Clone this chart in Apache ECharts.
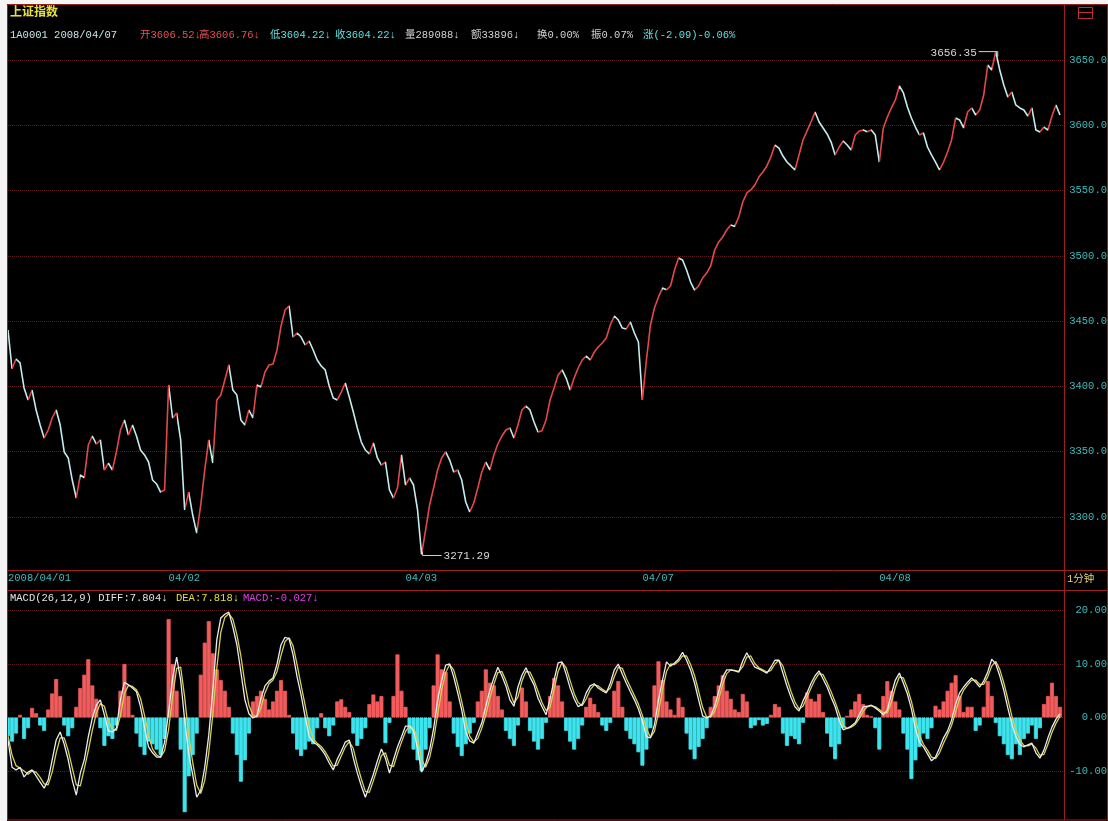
<!DOCTYPE html>
<html><head><meta charset="utf-8">
<script src="https://cdn.jsdelivr.net/npm/echarts@6/dist/echarts.min.js"></script>
<style>html,body{margin:0;padding:0;background:#fff;}#c{position:absolute;left:0;top:0;width:1108px;height:821px;}</style>
</head><body><div id="c"></div>
<script>
// ---------- DATA ----------
const dayLabels = ['2008/04/01','04/02','04/03','04/07','04/08'];
const dayLengths = [40,59,59,59,47];           // sampled slots per trading day
const titleText = '上证指数';
const quoteItems = ['1A0001 2008/04/07','开3606.52↓','高3606.76↓','低3604.22↓','收3604.22↓','量289088↓','额33896↓','换0.00%','振0.07%','涨(-2.09)-0.06%'];
const macdItems = ['MACD(26,12,9) DIFF:7.804↓','DEA:7.818↓','MACD:-0.027↓'];
const periodText = '1分钟';
const priceTicks = {min:3250, max:3700, step:50};
const macdTicks = {min:-20, max:30, step:10};

const price = [
3443.2,3413.5,3421.0,3418.0,3398.8,3389.6,3397.2,3381.9,3370.4,3360.5,
3366.6,3375.8,3381.9,3370.4,3349.8,3345.2,3328.3,3314.5,3332.2,3330.0,
3355.1,3362.0,3355.9,3359.0,3336.0,3341.3,3336.0,3349.8,3366.6,3374.3,
3362.8,3370.4,3362.0,3351.3,3347.5,3342.1,3328.3,3325.3,3319.1,3320.7,
3401.1,3375.8,3379.6,3359.0,3305.4,3319.1,3301.5,3287.7,3309.2,3336.0,
3359.0,3341.3,3389.6,3393.4,3404.9,3416.4,3397.2,3393.4,3374.3,3370.4,
3381.9,3375.8,3401.1,3399.6,3411.0,3416.4,3417.2,3427.9,3446.2,3458.5,
3461.6,3437.8,3440.9,3437.8,3431.7,3434.8,3427.9,3420.2,3415.6,3412.6,
3400.3,3391.1,3389.6,3395.7,3402.6,3391.9,3380.4,3368.1,3357.4,3351.3,
3348.2,3356.7,3345.2,3339.8,3342.1,3320.7,3314.5,3322.2,3347.5,3324.5,
3329.9,3324.5,3305.4,3271.29,3290.0,3309.2,3322.2,3336.0,3345.2,3349.8,
3343.6,3334.5,3336.0,3328.3,3311.5,3303.8,3310.7,3322.2,3334.5,3342.1,
3336.0,3347.5,3355.9,3362.0,3366.6,3368.1,3360.5,3370.4,3381.9,3385.0,
3381.9,3372.7,3365.1,3366.0,3374.3,3389.6,3398.8,3408.7,3412.6,3406.4,
3397.2,3406.4,3414.1,3420.2,3423.3,3420.2,3426.3,3430.2,3433.2,3437.1,
3447.0,3453.9,3450.8,3444.7,3444.0,3449.3,3440.9,3434.0,3389.6,3420.2,
3447.0,3460.0,3468.5,3475.3,3474.0,3476.9,3489.1,3498.3,3496.8,3489.1,
3479.9,3473.8,3476.9,3483.0,3486.8,3492.2,3504.4,3510.6,3514.4,3519.8,
3523.6,3522.5,3529.7,3541.2,3548.1,3550.4,3554.2,3560.3,3564.2,3568.8,
3575.7,3584.8,3582.5,3576.4,3571.8,3568.8,3565.7,3577.2,3588.7,3595.6,
3602.5,3610.1,3602.5,3597.9,3593.3,3587.1,3577.2,3583.3,3587.9,3584.8,
3581.0,3592.5,3595.6,3596.3,3595.0,3596.3,3592.5,3571.8,3597.9,3606.3,
3613.2,3619.3,3630.0,3624.7,3613.9,3605.5,3598.6,3592.5,3594.0,3583.3,
3577.2,3571.8,3565.7,3571.8,3579.5,3588.7,3605.5,3604.0,3597.9,3610.1,
3613.2,3607.8,3611.6,3623.1,3646.1,3642.3,3656.35,3642.3,3630.8,3621.6,
3625.4,3615.5,3613.2,3611.6,3607.0,3613.2,3596.3,3594.8,3598.6,3596.3,
3607.0,3615.5,3607.8];

const diff = [
-4.2,-9.3,-9.8,-9.3,-11.1,-10.2,-9.8,-10.9,-12.1,-13.2,
-11.7,-7.9,-4.2,-2.7,-5.0,-7.9,-11.7,-14.5,-10.4,-7.9,
-3.6,-0.1,2.3,3.3,0.5,-2.5,-2.7,-2.0,3.3,6.6,
6.1,5.5,4.8,2.0,-1.9,-5.5,-6.6,-7.4,-7.4,-4.6,
1.0,7.4,11.3,7.0,-0.5,-6.8,-10.7,-14.9,-13.6,-9.3,
-3.3,5.1,14.5,18.6,19.3,19.7,16.9,13.6,8.5,3.3,
0.7,-0.1,0.3,3.6,5.9,6.8,7.4,10.0,13.6,15.0,
14.7,11.7,7.6,4.2,0.1,-3.5,-4.6,-5.1,-5.9,-7.0,
-8.5,-9.8,-7.8,-6.3,-4.6,-4.2,-7.6,-10.4,-12.8,-14.9,
-12.8,-10.6,-8.1,-5.9,-7.6,-10.4,-7.9,-5.5,-3.6,-1.6,
-1.6,-2.5,-5.7,-10.2,-8.7,-6.1,-2.1,3.3,7.0,9.8,
10.0,7.6,4.6,1.4,-2.7,-4.4,-4.8,-2.9,-1.0,2.1,
5.1,7.4,9.4,7.8,5.9,3.3,2.1,5.7,7.9,9.3,
7.6,6.1,3.6,2.0,0.5,3.5,7.0,10.2,10.4,8.1,
5.5,3.5,2.0,2.5,4.6,5.9,6.3,5.5,5.0,4.6,
6.4,8.9,10.0,8.1,6.4,4.8,3.3,1.6,-0.7,-3.6,
-3.8,-1.4,3.3,7.0,10.4,9.6,10.2,10.9,12.2,10.7,
8.9,6.4,3.3,0.3,-0.1,0.3,2.1,4.8,7.6,8.9,
8.9,8.7,8.5,10.6,12.1,10.7,9.4,9.1,8.7,8.3,
9.4,10.7,10.7,8.3,5.9,3.8,2.0,1.2,3.1,4.6,
6.4,7.8,8.7,7.2,5.7,3.8,2.0,-0.5,-2.3,-2.0,
-1.6,-1.0,0.5,2.0,2.1,2.3,1.8,1.2,0.5,1.4,
4.4,7.0,8.3,6.4,4.4,1.6,-2.1,-4.6,-5.5,-6.8,
-8.1,-7.4,-5.7,-3.8,-2.5,-0.5,2.5,4.6,5.7,6.6,
7.4,6.6,5.7,6.8,8.5,10.9,10.0,7.8,5.1,1.8,
-1.2,-3.5,-5.0,-5.5,-5.1,-4.8,-6.6,-7.6,-6.1,-3.8,
-1.8,-0.3,0.7];

const dea = [
-3.5,-7.0,-9.0,-9.5,-10.0,-10.6,-10.0,-10.2,-11.2,-12.4,
-12.6,-10.2,-6.6,-3.8,-3.8,-6.2,-9.4,-12.6,-12.8,-9.6,
-6.2,-2.4,0.8,2.6,2.1,-0.7,-2.2,-2.4,0.3,4.5,
6.0,5.8,5.2,3.6,0.4,-3.3,-5.9,-7.0,-7.4,-6.2,
-2.2,3.9,9.2,9.4,3.8,-3.3,-8.4,-12.6,-14.2,-11.8,
-6.6,0.5,9.2,15.9,18.7,19.4,18.4,15.5,11.5,6.4,
2.3,0.4,0.1,1.8,4.6,6.3,7.0,8.6,11.6,14.2,
14.9,13.4,9.9,6.0,2.3,-1.6,-4.0,-4.8,-5.4,-6.4,
-7.7,-9.1,-8.9,-7.2,-5.5,-4.5,-5.8,-8.9,-11.5,-13.8,
-14.0,-11.8,-9.5,-7.1,-6.6,-8.9,-9.2,-6.8,-4.6,-2.6,
-1.6,-2.0,-4.0,-7.8,-9.3,-7.5,-4.2,0.5,5.1,8.4,
9.9,8.9,6.2,3.0,-0.5,-3.5,-4.6,-3.9,-2.0,0.5,
3.6,6.2,8.4,8.6,6.9,4.7,2.7,3.8,6.8,8.6,
8.5,6.9,4.9,2.8,1.3,1.9,5.2,8.6,10.3,9.3,
6.9,4.5,2.8,2.2,3.5,5.2,6.1,5.9,5.3,4.8,
5.5,7.6,9.4,9.2,7.3,5.7,4.1,2.5,0.4,-2.1,
-3.7,-2.6,0.9,5.1,8.6,10.0,9.9,10.5,11.5,11.5,
9.9,7.8,4.9,1.9,0.1,0.1,1.1,3.4,6.2,8.2,
8.9,8.8,8.6,9.5,11.3,11.5,10.1,9.3,8.9,8.5,
8.8,10.0,10.7,9.6,7.2,4.9,2.9,1.6,2.1,3.8,
5.5,7.1,8.2,8.0,6.5,4.8,2.9,0.8,-1.4,-2.1,
-1.8,-1.3,-0.2,1.2,2.0,2.2,2.0,1.5,0.9,0.9,
2.8,5.6,7.6,7.4,5.5,3.0,-0.2,-3.3,-5.0,-6.1,
-7.4,-7.7,-6.6,-4.8,-3.2,-1.5,1.0,3.5,5.1,6.1,
7.0,7.0,6.2,6.2,7.6,9.6,10.5,9.0,6.5,3.5,
0.3,-2.3,-4.2,-5.2,-5.3,-5.0,-5.7,-7.1,-6.9,-5.0,
-2.8,-1.1,0.2];

const macdBar = [
-3.5,-4.5,-3.0,0.5,-4.0,-2.0,1.8,0.8,-1.5,-2.5,
1.5,4.5,7.2,4.0,-1.5,-3.5,-2.0,2.0,5.5,8.0,
10.9,6.0,3.5,-2.0,-5.3,-3.5,-4.0,-1.5,5.0,10.0,
4.0,0.5,-3.0,-5.5,-7.0,-4.5,-5.0,-6.0,-7.0,-4.0,
18.4,10.0,5.0,-6.0,-17.7,-11.0,-7.0,-3.0,8.0,14.0,
18.0,12.0,9.0,7.0,5.0,2.0,-3.0,-7.0,-12.0,-8.0,
-3.0,3.0,4.0,5.0,3.5,1.5,3.0,5.0,7.0,5.0,
0.5,-3.0,-6.0,-7.2,-6.0,-4.5,-5.0,-2.0,0.8,-2.0,
-3.5,-1.5,3.0,3.4,2.0,1.0,-3.0,-5.3,-4.0,-2.0,
2.5,4.3,3.0,4.0,-4.8,-1.0,4.0,11.8,5.0,2.0,
-3.0,-6.0,-8.0,-10.0,-6.0,-2.0,6.0,11.8,9.0,8.5,
3.0,-3.0,-5.5,-7.2,-5.0,-3.0,-1.0,3.0,5.0,9.0,
6.5,6.0,4.0,1.5,-2.5,-4.0,-5.3,-1.5,5.6,3.0,
-2.5,-4.5,-6.0,-4.0,-1.0,4.0,7.4,6.0,3.0,-2.5,
-4.5,-6.0,-4.0,-1.5,2.0,3.7,2.5,1.0,-1.5,-2.5,
-1.0,5.0,6.8,2.0,-2.5,-4.0,-5.0,-6.5,-9.0,-6.0,
-2.0,6.0,10.5,7.0,3.0,1.5,0.5,3.7,2.0,-3.0,
-6.0,-7.8,-5.5,-4.0,-2.0,2.0,4.0,6.0,7.9,5.0,
3.5,1.5,1.0,4.4,3.0,-2.0,-1.5,-0.5,-1.5,-1.2,
0.5,2.5,2.0,-3.0,-5.3,-3.5,-4.0,-5.0,-1.0,4.7,
3.5,3.0,4.4,1.0,-3.0,-5.5,-7.8,-5.0,-2.0,0.3,
1.5,3.0,4.4,2.5,0.5,0.2,-2.0,-6.0,4.0,6.8,
5.0,3.0,1.5,-3.0,-6.0,-11.5,-8.0,-5.5,-3.0,-4.0,
-2.0,2.2,1.5,3.0,5.0,6.5,7.9,4.0,1.0,2.0,
2.0,-2.5,-1.5,2.0,6.8,4.0,-1.0,-3.5,-5.0,-7.0,
-7.8,-5.0,-7.0,-4.0,-3.0,-1.5,-4.0,-2.0,2.5,4.0,
6.5,4.0,2.0];

// ---------- STYLE / LAYOUT ----------
const FRAME = '#9c1e1e', GRIDC = '#5e1616', TEAL = '#3fbcbc';
const UP = '#e44848', DOWN = '#c4ecec';
const BAR_UP = '#f25c5c', BAR_DN = '#3ee4ee';
const MONO = '"Liberation Mono","DejaVu Sans Mono","Noto Sans CJK SC",monospace';
const quoteX = [10,140,199,270,335,405,471,537,591,643];
const quoteColors = ['#c8e6e6','#e85050','#e85050','#5ee0e0','#5ee0e0','#d4d4d4','#d4d4d4','#d4d4d4','#d4d4d4','#5ee0e0'];
const macdX = [10,176,243];
const macdColors = ['#e4e4e4','#e6dc3c','#e040e8'];

// categories (one slot per sample)
const categories = [];
const dayStarts = [];
dayLabels.forEach((d, di) => {
  dayStarts.push(categories.length);
  for (let k = 0; k < dayLengths[di]; k++) categories.push(d + ' #' + k);
});
const dayStartSet = new Set(dayStarts);

// up/down colouring of the price line
const pieces = [];
for (let i = 0; i < price.length - 1; i++) {
  const c = price[i + 1] >= price[i] ? UP : DOWN;
  const last = pieces[pieces.length - 1];
  if (last && last.color === c) last.lt = i + 1;
  else pieces.push({gte: i, lt: i + 1, color: c});
}
pieces[pieces.length - 1].lte = categories.length;
delete pieces[pieces.length - 1].lt;

// histogram items coloured by sign
const barItems = macdBar.map((v) => {
  const c = v >= 0 ? BAR_UP : BAR_DN;
  return {value: v, itemStyle: {color: c, borderColor: c, borderWidth: 0.8}};
});

const chart = echarts.init(document.getElementById('c'), null, {renderer: 'canvas'});
const labelFont = {color: TEAL, fontFamily: MONO, fontSize: 10.5};

chart.setOption({
  backgroundColor: '#000',
  animation: false,
  grid: [
    {left: 8, width: 1056, top: -5.4, height: 587.7, containLabel: false, outerBoundsMode: 'none'},
    {left: 8, width: 1056, top: 557, height: 267.5, containLabel: false, outerBoundsMode: 'none'}
  ],
  xAxis: [
    {type: 'category', gridIndex: 0, data: categories, boundaryGap: false, offset: -12.3,
     axisLine: {show: false}, axisTick: {show: false}, splitLine: {show: false},
     axisLabel: Object.assign({show: true, align: 'left', margin: 3, hideOverlap: false,
       interval: (idx) => dayStartSet.has(idx),
       formatter: (v) => v.split(' #')[0], showMinLabel: true}, labelFont)},
    {type: 'category', gridIndex: 1, data: categories, boundaryGap: false, show: false}
  ],
  yAxis: [
    {type: 'value', gridIndex: 0, position: 'right', min: priceTicks.min, max: priceTicks.max, interval: priceTicks.step,
     axisLine: {show: false}, axisTick: {show: false},
     axisLabel: Object.assign({align: 'right', margin: 43, showMinLabel: false, showMaxLabel: false,
       formatter: (v) => v.toFixed(1)}, labelFont),
     splitLine: {show: true, showMinLine: false, showMaxLine: false, lineStyle: {color: GRIDC, type: 'dotted', width: 1}}},
    {type: 'value', gridIndex: 1, position: 'right', min: macdTicks.min, max: macdTicks.max, interval: macdTicks.step,
     axisLine: {show: false}, axisTick: {show: false},
     axisLabel: Object.assign({align: 'right', margin: 43, showMinLabel: false, showMaxLabel: false,
       formatter: (v) => v.toFixed(2)}, labelFont),
     splitLine: {show: true, showMinLine: false, showMaxLine: false, lineStyle: {color: GRIDC, type: 'dotted', width: 1}}}
  ],
  visualMap: {show: false, type: 'piecewise', seriesIndex: 0, dimension: 0, pieces: pieces},
  series: [
    {name: 'price', type: 'line', xAxisIndex: 0, yAxisIndex: 0, data: price, showSymbol: false, symbol: 'none',
     lineStyle: {width: 1.6}, silent: true, z: 3},
    {name: 'MACD', type: 'bar', xAxisIndex: 1, yAxisIndex: 1, data: barItems, barCategoryGap: '0%', barWidth: '100%', silent: true},
    {name: 'DEA', type: 'line', xAxisIndex: 1, yAxisIndex: 1, data: dea, showSymbol: false, symbol: 'none',
     lineStyle: {width: 1.3, color: '#d8d050'}, silent: true, z: 4},
    {name: 'DIFF', type: 'line', xAxisIndex: 1, yAxisIndex: 1, data: diff, showSymbol: false, symbol: 'none',
     lineStyle: {width: 1.3, color: '#ececec'}, silent: true, z: 5}
  ]
});

// ---------- overlays (frame, texts, extremes) ----------
function txt(x, y, text, fill, size, align, weight) {
  return {type: 'text', x: x, y: y, silent: true, z: 100,
    style: {text: text, fill: fill, font: (weight || 'normal') + ' ' + (size || 10.5) + 'px ' + MONO,
      align: align || 'left', verticalAlign: 'middle'}};
}
function ln(x1, y1, x2, y2, c) {
  return {type: 'line', silent: true, z: 90, shape: {x1: x1, y1: y1, x2: x2, y2: y2}, style: {stroke: c || FRAME, lineWidth: 1}};
}
const g = [];
g.push({type: 'rect', silent: true, z: 95, shape: {x: 0, y: 0, width: 1108, height: 4}, style: {fill: '#f4f4f4'}});
g.push({type: 'rect', silent: true, z: 95, shape: {x: 0, y: 0, width: 7, height: 821}, style: {fill: '#f4f4f4'}});
g.push({type: 'rect', silent: true, z: 90, shape: {x: 7.5, y: 4.5, width: 1100, height: 815.5}, style: {fill: 'none', stroke: FRAME, lineWidth: 1}});
g.push(ln(1064.5, 4.5, 1064.5, 820));
g.push(ln(7.5, 570.5, 1107.5, 570.5));
g.push(ln(7.5, 590.5, 1107.5, 590.5));
// small icon top-right
g.push({type: 'rect', silent: true, z: 90, shape: {x: 1078.5, y: 7.5, width: 14, height: 11}, style: {fill: 'none', stroke: '#c03030', lineWidth: 1}});
g.push(ln(1078.5, 12.5, 1092.5, 12.5, '#c03030'));

g.push(txt(10, 13, titleText, '#e8e040', 12, 'left', 'bold'));
quoteItems.forEach((t, i) => g.push(txt(quoteX[i], 35, t, quoteColors[i])));
macdItems.forEach((t, i) => g.push(txt(macdX[i], 598, t, macdColors[i])));
g.push(txt(1067, 579, periodText, '#e6d27a'));

// extremes, located through the axes
let iMax = 0, iMin = 0;
price.forEach((v, i) => { if (v > price[iMax]) iMax = i; if (v < price[iMin]) iMin = i; });
const pMax = chart.convertToPixel({xAxisIndex: 0, yAxisIndex: 0}, [iMax, price[iMax]]);
const pMin = chart.convertToPixel({xAxisIndex: 0, yAxisIndex: 0}, [iMin, price[iMin]]);
g.push({type: 'polyline', silent: true, z: 99, shape: {points: [[pMax[0] - 17, pMax[1]], [pMax[0] + 2, pMax[1]], [pMax[0] + 2, pMax[1] + 5]]}, style: {stroke: '#d0d0d0', lineWidth: 1, fill: 'none'}});
g.push(txt(pMax[0] - 19, pMax[1] + 1, price[iMax].toFixed(2), '#d8d8d8', 11, 'right'));
g.push({type: 'polyline', silent: true, z: 99, shape: {points: [[pMin[0] + 1, pMin[1] - 3], [pMin[0] + 1, pMin[1] + 1], [pMin[0] + 20, pMin[1] + 1]]}, style: {stroke: '#d0d0d0', lineWidth: 1, fill: 'none'}});
g.push(txt(pMin[0] + 22, pMin[1] + 2, price[iMin].toFixed(2), '#d8d8d8', 11, 'left'));

chart.setOption({graphic: {elements: g}});
</script>
</body></html>
